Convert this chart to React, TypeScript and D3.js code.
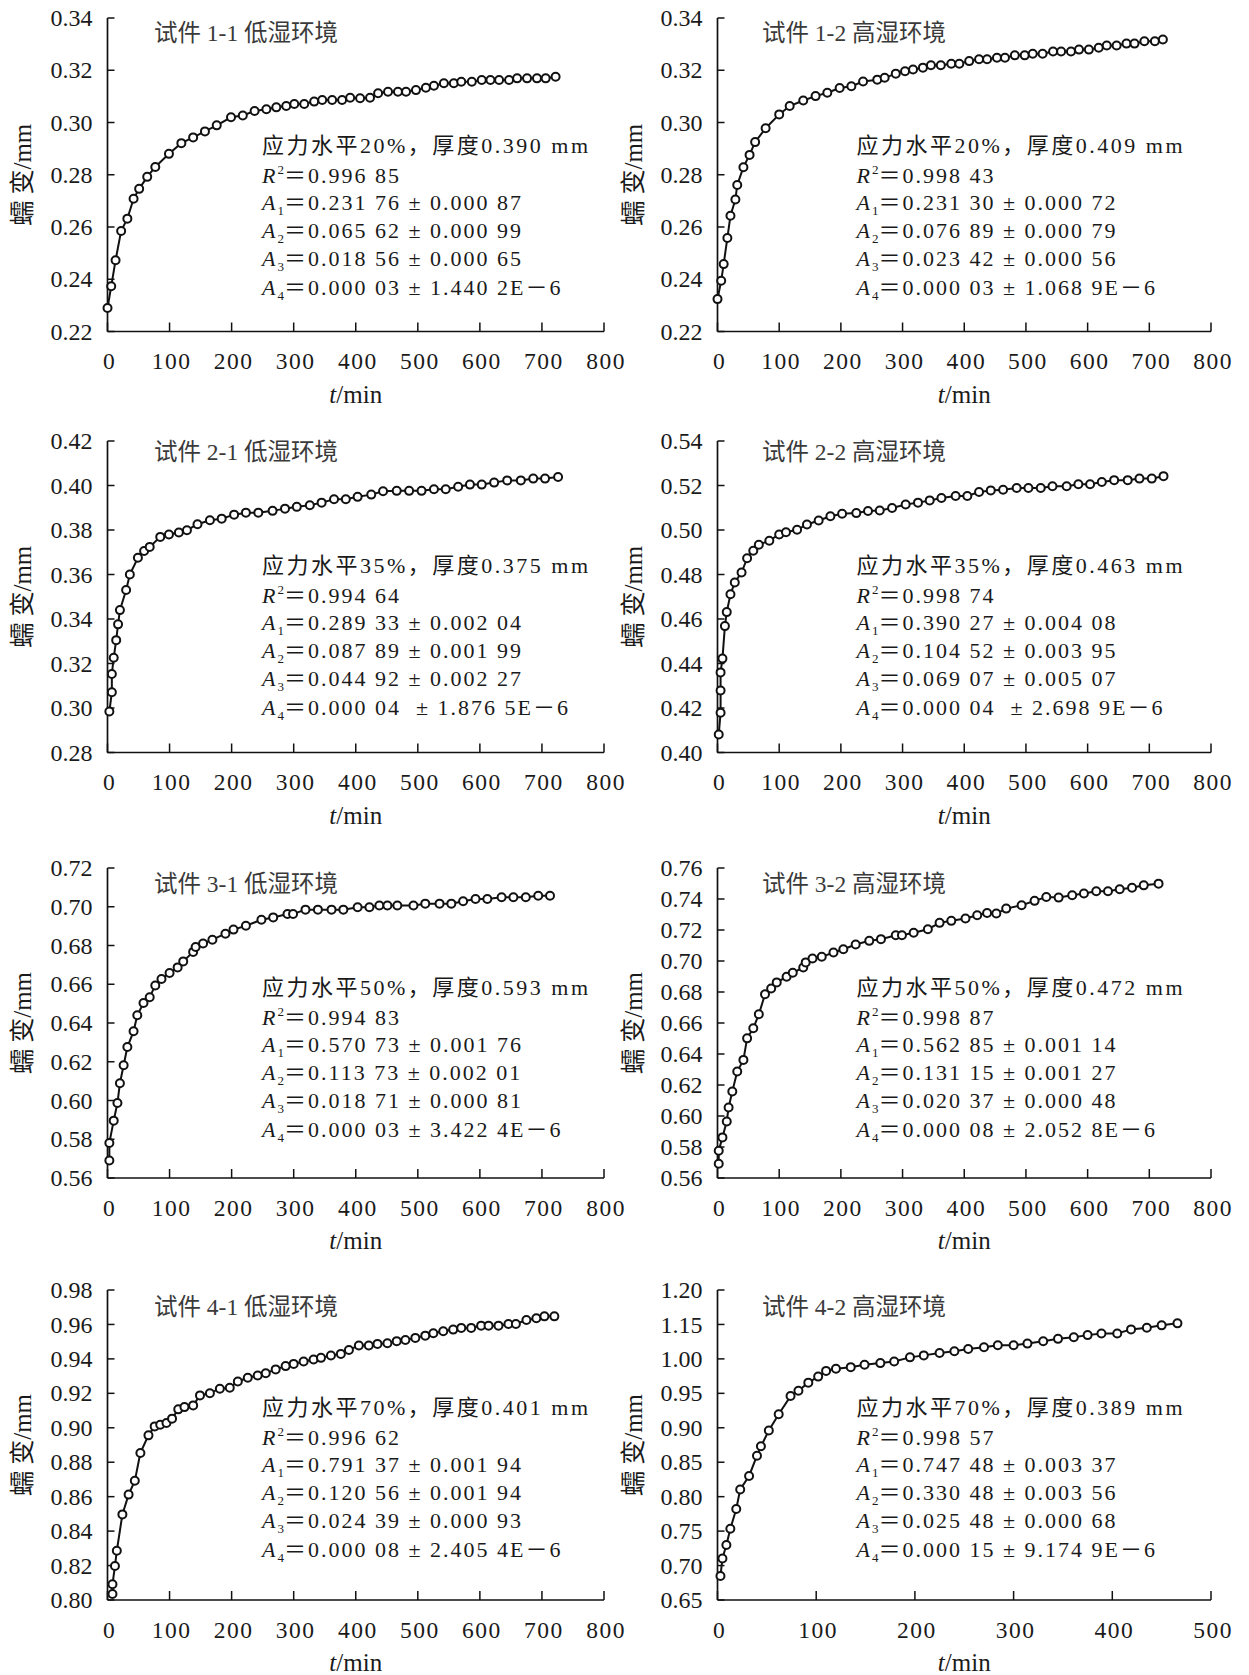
import React from 'react';
import * as d3 from 'd3';

const W = 1249;
const H = 1675;
const FONT = "'Liberation Serif', 'Times New Roman', 'Noto Sans CJK SC', serif";

// panel order: 1-1, 1-2, 2-1, 2-2, 3-1, 3-2, 4-1, 4-2
const titles = [
  '试件 1-1 低湿环境', '试件 1-2 高湿环境',
  '试件 2-1 低湿环境', '试件 2-2 高湿环境',
  '试件 3-1 低湿环境', '试件 3-2 高湿环境',
  '试件 4-1 低湿环境', '试件 4-2 高湿环境',
];
const stressText = [
  '应力水平20%，厚度0.390 mm', '应力水平20%，厚度0.409 mm',
  '应力水平35%，厚度0.375 mm', '应力水平35%，厚度0.463 mm',
  '应力水平50%，厚度0.593 mm', '应力水平50%，厚度0.472 mm',
  '应力水平70%，厚度0.401 mm', '应力水平70%，厚度0.389 mm',
];
const r2Text = ['0.996 85', '0.998 43', '0.994 64', '0.998 74', '0.994 83', '0.998 87', '0.996 62', '0.998 57'];
const a1Text = ['0.231 76 ± 0.000 87', '0.231 30 ± 0.000 72', '0.289 33 ± 0.002 04', '0.390 27 ± 0.004 08',
  '0.570 73 ± 0.001 76', '0.562 85 ± 0.001 14', '0.791 37 ± 0.001 94', '0.747 48 ± 0.003 37'];
const a2Text = ['0.065 62 ± 0.000 99', '0.076 89 ± 0.000 79', '0.087 89 ± 0.001 99', '0.104 52 ± 0.003 95',
  '0.113 73 ± 0.002 01', '0.131 15 ± 0.001 27', '0.120 56 ± 0.001 94', '0.330 48 ± 0.003 56'];
const a3Text = ['0.018 56 ± 0.000 65', '0.023 42 ± 0.000 56', '0.044 92 ± 0.002 27', '0.069 07 ± 0.005 07',
  '0.018 71 ± 0.000 81', '0.020 37 ± 0.000 48', '0.024 39 ± 0.000 93', '0.025 48 ± 0.000 68'];
const a4Text = ['0.000 03 ± 1.440 2E－6', '0.000 03 ± 1.068 9E－6', '0.000 04  ± 1.876 5E－6', '0.000 04  ± 2.698 9E－6',
  '0.000 03 ± 3.422 4E－6', '0.000 08 ± 2.052 8E－6', '0.000 08 ± 2.405 4E－6', '0.000 15 ± 9.174 9E－6'];

const yDomains: [number, number][] = [
  [0.22, 0.34], [0.22, 0.34], [0.28, 0.42], [0.40, 0.54],
  [0.56, 0.72], [0.56, 0.76], [0.80, 0.98], [0.65, 1.10],
];
const ySteps = [0.02, 0.02, 0.02, 0.02, 0.02, 0.02, 0.02, 0.05];
const xMaxes = [800, 800, 800, 800, 800, 800, 800, 500];
// the last panel's axis is labelled this way in the source
const yLabels42 = ['0.65', '0.70', '0.75', '0.80', '0.85', '0.90', '0.95', '1.00', '1.15', '1.20'];

// [t (min), creep (mm)]
const s11: [number, number][] = [
  [0, 0.229], [6, 0.2373], [13, 0.2473], [22, 0.2585], [32, 0.2632], [42, 0.2708], [51, 0.2746], [64, 0.2792],
  [77, 0.283], [99, 0.288], [119, 0.2921], [138, 0.2943], [157, 0.2966], [176, 0.2989], [199, 0.302], [218, 0.3027],
  [237, 0.3044], [256, 0.3051], [272, 0.3058], [288, 0.3063], [301, 0.3071], [317, 0.3071], [333, 0.308], [346, 0.3086],
  [362, 0.3086], [378, 0.3086], [391, 0.3095], [407, 0.3093], [423, 0.3095], [436, 0.3112], [452, 0.3118], [468, 0.3118],
  [481, 0.3118], [497, 0.3124], [513, 0.3133], [526, 0.3141], [542, 0.315], [558, 0.315], [570, 0.3156], [587, 0.3156],
  [603, 0.3163], [617, 0.3163], [631, 0.3163], [647, 0.3163], [660, 0.3169], [676, 0.3169], [692, 0.3169], [706, 0.3169],
  [722, 0.3175],
];
const s12: [number, number][] = [
  [0, 0.2324], [6, 0.2394], [10, 0.2458], [16, 0.2558], [21, 0.2643], [29, 0.2705], [32, 0.2761], [42, 0.2829],
  [52, 0.2876], [61, 0.2925], [78, 0.2978], [100, 0.3031], [117, 0.3063], [139, 0.3084], [159, 0.3101], [178, 0.3114],
  [198, 0.3132], [217, 0.3139], [236, 0.3157], [259, 0.3164], [271, 0.3171], [289, 0.3187], [304, 0.3196], [317, 0.3203],
  [333, 0.321], [346, 0.3219], [362, 0.3219], [379, 0.3225], [392, 0.3225], [408, 0.3235], [424, 0.3242], [437, 0.3242],
  [453, 0.3248], [466, 0.3248], [482, 0.3257], [498, 0.3257], [511, 0.3263], [527, 0.3263], [544, 0.3272], [557, 0.3272],
  [573, 0.3272], [586, 0.3279], [602, 0.3279], [618, 0.3286], [631, 0.3295], [647, 0.3295], [663, 0.3302], [676, 0.3302],
  [692, 0.3311], [709, 0.3311], [722, 0.3318],
];
const s21: [number, number][] = [
  [3, 0.2984], [7, 0.3071], [7, 0.3153], [10, 0.3226], [14, 0.3305], [17, 0.3376], [20, 0.344], [30, 0.353],
  [36, 0.36], [49, 0.3675], [59, 0.3706], [68, 0.3724], [85, 0.3769], [99, 0.378], [115, 0.3789], [128, 0.3799],
  [145, 0.3826], [165, 0.3844], [184, 0.3851], [204, 0.3869], [223, 0.3878], [243, 0.3878], [266, 0.3886], [286, 0.3896],
  [305, 0.3904], [326, 0.3911], [345, 0.3923], [365, 0.3938], [384, 0.3938], [403, 0.3949], [425, 0.3959], [444, 0.3974],
  [466, 0.3976], [486, 0.3976], [506, 0.3976], [526, 0.3983], [545, 0.3983], [565, 0.3994], [584, 0.4004], [603, 0.4004],
  [623, 0.4013], [644, 0.4023], [666, 0.4023], [686, 0.4031], [705, 0.4031], [726, 0.4038],
];
const s22: [number, number][] = [
  [2, 0.4081], [5, 0.4179], [5, 0.4279], [5, 0.436], [8, 0.4422], [12, 0.4568], [15, 0.4631], [21, 0.4711],
  [28, 0.4764], [39, 0.4809], [48, 0.4873], [58, 0.4907], [67, 0.4934], [84, 0.4952], [100, 0.498], [111, 0.499],
  [129, 0.5001], [145, 0.5025], [164, 0.5043], [183, 0.5062], [202, 0.5073], [225, 0.5076], [244, 0.5085], [263, 0.5088],
  [283, 0.5099], [305, 0.5115], [325, 0.5123], [344, 0.5133], [363, 0.5144], [386, 0.5153], [405, 0.5153], [424, 0.5171],
  [443, 0.5178], [463, 0.5181], [485, 0.5189], [504, 0.5189], [524, 0.5189], [543, 0.5197], [566, 0.5197], [585, 0.5206],
  [604, 0.5206], [623, 0.5216], [643, 0.5224], [665, 0.5224], [684, 0.5231], [704, 0.5231], [723, 0.5242],
];
const s31: [number, number][] = [
  [3, 0.569], [3, 0.5781], [10, 0.5896], [16, 0.5987], [20, 0.6089], [26, 0.6182], [32, 0.6276], [42, 0.6357],
  [48, 0.644], [58, 0.6503], [68, 0.6533], [77, 0.6594], [87, 0.6627], [100, 0.6658], [113, 0.6687], [122, 0.6718],
  [138, 0.6767], [142, 0.6792], [154, 0.681], [169, 0.683], [190, 0.6861], [203, 0.6882], [223, 0.6902], [248, 0.6933],
  [267, 0.6945], [290, 0.6963], [299, 0.6963], [319, 0.6985], [339, 0.6985], [361, 0.6985], [380, 0.6985], [403, 0.6997],
  [422, 0.6997], [438, 0.7006], [451, 0.7006], [467, 0.7006], [493, 0.7006], [512, 0.7016], [535, 0.7016], [554, 0.7016],
  [573, 0.7028], [593, 0.704], [612, 0.704], [635, 0.7049], [654, 0.7049], [674, 0.7049], [694, 0.7057], [713, 0.7057],
];
const s32: [number, number][] = [
  [2, 0.5692], [2, 0.5776], [8, 0.5862], [15, 0.5965], [18, 0.6055], [24, 0.6158], [32, 0.6287], [42, 0.6362],
  [48, 0.6501], [58, 0.6566], [67, 0.6656], [77, 0.6785], [87, 0.6823], [96, 0.6862], [112, 0.6898], [122, 0.6924],
  [139, 0.6958], [143, 0.6991], [154, 0.7016], [169, 0.7027], [188, 0.7055], [204, 0.7076], [224, 0.7106], [246, 0.713],
  [265, 0.7141], [289, 0.7166], [299, 0.7166], [318, 0.7182], [341, 0.7205], [360, 0.7246], [379, 0.7259], [402, 0.7274],
  [421, 0.7295], [437, 0.731], [452, 0.7306], [468, 0.7338], [493, 0.736], [514, 0.7388], [533, 0.7413], [553, 0.7409],
  [575, 0.7424], [594, 0.7435], [614, 0.745], [633, 0.745], [652, 0.7463], [672, 0.7473], [691, 0.7488], [715, 0.7499],
];
const s41: [number, number][] = [
  [8, 0.8035], [8, 0.8091], [12, 0.8197], [15, 0.8286], [24, 0.8497], [34, 0.8612], [44, 0.8692], [53, 0.8854],
  [66, 0.8956], [76, 0.9008], [85, 0.9018], [95, 0.9028], [104, 0.9053], [114, 0.9107], [124, 0.912], [138, 0.913],
  [149, 0.9188], [165, 0.9201], [181, 0.9227], [197, 0.9232], [210, 0.9269], [226, 0.929], [242, 0.9304], [255, 0.9317],
  [271, 0.9339], [287, 0.9358], [300, 0.9371], [316, 0.9385], [332, 0.9396], [344, 0.9406], [360, 0.942], [376, 0.9429],
  [389, 0.9452], [405, 0.9478], [421, 0.9478], [435, 0.9487], [451, 0.9491], [466, 0.9503], [480, 0.951], [496, 0.9522],
  [512, 0.9535], [525, 0.9549], [541, 0.9561], [557, 0.957], [570, 0.958], [586, 0.958], [602, 0.9593], [614, 0.9593],
  [630, 0.9593], [646, 0.9603], [658, 0.9603], [675, 0.9626], [691, 0.9636], [704, 0.9647], [720, 0.9647],
];
const s42: [number, number][] = [
  [3, 0.6848], [5, 0.7103], [9, 0.7298], [13, 0.7533], [19, 0.7822], [23, 0.8105], [32, 0.8301], [40, 0.8594],
  [44, 0.8731], [52, 0.8961], [62, 0.9196], [74, 0.946], [82, 0.9538], [92, 0.9655], [102, 0.9743], [110, 0.9826],
  [120, 0.9856], [135, 0.988], [149, 0.9914], [165, 0.9939], [179, 0.9963], [195, 1.0022], [209, 1.0051], [225, 1.0086],
  [240, 1.011], [254, 1.0144], [270, 1.0169], [284, 1.0198], [300, 1.0198], [314, 1.0222], [330, 1.0257], [345, 1.0291],
  [361, 1.0315], [375, 1.0345], [389, 1.0369], [405, 1.0369], [419, 1.0428], [435, 1.0452], [450, 1.0487], [466, 1.0516],
];
const series = [s11, s12, s21, s22, s31, s32, s41, s42];

const rowTop = [18, 441, 868, 1290];
const rowBottom = [331.5, 752.5, 1178, 1600];
const titleDy = [15, 11, 16, 17];
const noteDy = [127, 124, 119, 117];
const noteGap = [0, 30, 57, 85, 113, 142];

function Note({ x, y, text, sym, sub, sup }: { x: number; y: number; text: string; sym: string; sub?: string; sup?: string }) {
  return (
    <text x={x} y={y} dy="0.36em" fontSize={22} letterSpacing={2} style={{ whiteSpace: 'pre' }}>
      <tspan fontStyle="italic">{sym}</tspan>
      {sub && <tspan fontSize={13} dy={5} letterSpacing={0}>{sub}</tspan>}
      {sup && <tspan fontSize={13} dy={-9} letterSpacing={0}>{sup}</tspan>}
      <tspan dy={sub ? -5 : sup ? 9 : 0}>{'＝' + text}</tspan>
    </text>
  );
}

function Panel({ i }: { i: number }) {
  const col = i % 2;
  const row = Math.floor(i / 2);
  const x0 = col ? 717.5 : 107.5;
  const x1 = col ? 1211 : 604;
  const top = rowTop[row];
  const bottom = rowBottom[row];
  const [yMin, yMax] = yDomains[i];
  const step = ySteps[i];

  const x = d3.scaleLinear().domain([0, xMaxes[i]]).range([x0, x1]);
  const y = d3.scaleLinear().domain([yMin, yMax]).range([bottom, top]);
  const line = d3.line<[number, number]>().x(d => x(d[0])).y(d => y(d[1]));

  const yTicks = d3.range(0, Math.round((yMax - yMin) / step) + 1).map(k => yMin + k * step);
  const xTicks = d3.range(0, xMaxes[i] + 1, 100);
  const fmt = d3.format('.2f');
  const data = series[i];

  const nx = x0 + (col ? 139 : 154.5);
  const ny = top + noteDy[row];

  return (
    <g>
      {/* axes */}
      <line x1={x0} y1={top} x2={x0} y2={bottom} stroke="#111" strokeWidth={1.7} />
      <line x1={x0} y1={bottom} x2={x1} y2={bottom} stroke="#111" strokeWidth={1.7} />
      {yTicks.map((v, k) => (
        <g key={'y' + k}>
          <line x1={x0} x2={x0 + 7} y1={y(v)} y2={y(v)} stroke="#111" strokeWidth={1.5} />
          <text x={x0 - 15} y={y(v)} dy="0.34em" textAnchor="end" fontSize={24}>
            {i === 7 ? yLabels42[k] : fmt(v)}
          </text>
        </g>
      ))}
      {xTicks.map(t => (
        <g key={'x' + t}>
          <line x1={x(t)} x2={x(t)} y1={bottom} y2={bottom - 9} stroke="#111" strokeWidth={1.5} />
          <text x={x(t) + 2} y={bottom + 37.5} textAnchor="middle" fontSize={23.5} letterSpacing={1.5}>{t}</text>
        </g>
      ))}
      <text x={(x0 + x1) / 2} y={bottom + 71} textAnchor="middle" fontSize={25}>
        <tspan fontStyle="italic">t</tspan>/min
      </text>
      <text transform={`translate(${col ? 633 : 22},${(top + bottom) / 2}) rotate(-90)`} textAnchor="middle"
        dy="0.35em" fontSize={25}>蠕 变/mm</text>

      {/* series */}
      <path d={line(data) || ''} fill="none" stroke="#111" strokeWidth={2} />
      {data.map((d, k) => (
        <circle key={k} cx={x(d[0])} cy={y(d[1])} r={4} fill="#fff" stroke="#111" strokeWidth={2} />
      ))}

      {/* labels */}
      <text x={x0 + (col ? 44.5 : 46.5)} y={top + titleDy[row]} dy="0.36em" fontSize={23.5} fill="#3a3a3a">{titles[i]}</text>
      <text x={nx} y={ny} dy="0.36em" fontSize={22} letterSpacing={2.5}>{stressText[i]}</text>
      <Note x={nx} y={ny + noteGap[1]} sym="R" sup="2" text={r2Text[i]} />
      <Note x={nx} y={ny + noteGap[2]} sym="A" sub="1" text={a1Text[i]} />
      <Note x={nx} y={ny + noteGap[3]} sym="A" sub="2" text={a2Text[i]} />
      <Note x={nx} y={ny + noteGap[4]} sym="A" sub="3" text={a3Text[i]} />
      <Note x={nx} y={ny + noteGap[5]} sym="A" sub="4" text={a4Text[i]} />
    </g>
  );
}

export default function App() {
  return (
    <svg width={W} height={H} viewBox={`0 0 ${W} ${H}`}
      style={{ position: 'absolute', left: 0, top: 0, background: '#fff' }}
      fontFamily={FONT} fill="#1a1a1a">
      <rect width={W} height={H} fill="#fff" />
      {titles.map((_, i) => <Panel key={i} i={i} />)}
    </svg>
  );
}
